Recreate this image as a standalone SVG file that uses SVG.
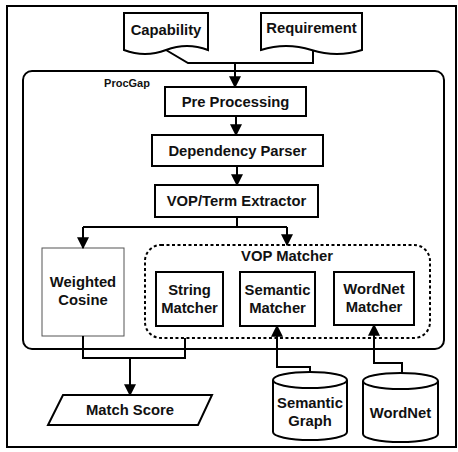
<svg xmlns="http://www.w3.org/2000/svg" width="458" height="452" viewBox="0 0 458 452">
<defs>
<style>
.box{fill:#fff;stroke:#000;stroke-width:2}
.thin{fill:#fff;stroke:#555;stroke-width:1}
.dash{fill:none;stroke:#000;stroke-width:2;stroke-dasharray:3 2.5}
.ln{fill:none;stroke:#000;stroke-width:2}
.t{font-family:"Liberation Sans",Arial,sans-serif;font-weight:bold;font-size:14.8px;text-anchor:middle;fill:#111}
.s{font-family:"Liberation Sans",Arial,sans-serif;font-weight:bold;font-size:11px;text-anchor:middle;fill:#111}
</style>
<marker id="ah" viewBox="0 0 10 10" refX="9" refY="5" markerWidth="12" markerHeight="12" markerUnits="userSpaceOnUse" orient="auto">
<path d="M0,0 L10,5 L0,10 z" fill="#000"/>
</marker>
</defs>
<rect x="7" y="6" width="449" height="441" fill="#fff" stroke="#000" stroke-width="2"/>
<g id="procgap">
<rect x="23" y="71" width="421" height="278" rx="9" class="box"/>
<text x="127" y="87" class="s">ProcGap</text>
</g>
<g id="capability">
<path d="M124,13 H208 V50 Q187,42 166,50 Q145,58 124,50 Z" class="box"/>
<text x="166" y="35" class="t">Capability</text>
</g>
<g id="requirement">
<path d="M261,13 H362 V50 Q337,58 311.5,50 Q286,42 261,50 Z" class="box"/>
<text x="311.5" y="33" class="t">Requirement</text>
</g>
<g id="preprocessing">
<rect x="165" y="87" width="141" height="29" class="box"/>
<text x="235.5" y="107" class="t">Pre Processing</text>
</g>
<g id="dependencyparser">
<rect x="152" y="135" width="171" height="31" class="box"/>
<text x="237.5" y="155.5" class="t">Dependency Parser</text>
</g>
<g id="vopterm">
<rect x="155" y="185" width="163" height="32" class="box"/>
<text x="236.5" y="206" class="t">VOP/Term Extractor</text>
</g>
<g id="weightedcosine">
<rect x="42" y="248" width="82" height="88" class="thin"/>
<text x="83" y="287" class="t">Weighted</text>
<text x="83" y="305" class="t">Cosine</text>
</g>
<g id="vopmatcher">
<rect x="145" y="245" width="285" height="93" rx="16" class="dash"/>
<text x="287" y="261" class="t">VOP Matcher</text>
</g>
<g id="stringmatcher">
<rect x="156" y="272" width="67" height="54" class="box"/>
<text x="189.5" y="295" class="t">String</text>
<text x="189.5" y="313" class="t">Matcher</text>
</g>
<g id="semanticmatcher">
<rect x="240" y="272" width="75" height="54" class="box"/>
<text x="277.5" y="295" class="t">Semantic</text>
<text x="277.5" y="313" class="t">Matcher</text>
</g>
<g id="wordnetmatcher">
<rect x="334" y="272" width="80" height="53" class="box"/>
<text x="374" y="294" class="t">WordNet</text>
<text x="374" y="312" class="t">Matcher</text>
</g>
<g id="matchscore">
<path d="M63,395 H212 L198,425 H48 Z" class="box"/>
<text x="130" y="415" class="t">Match Score</text>
</g>
<g id="semanticgraph">
<path d="M273,380 A37,8 0 0,1 347,380 V432 A37,8 0 0,1 273,432 Z" class="box"/>
<path d="M273,380 A37,8 0 0,0 347,380" class="ln"/>
<text x="310" y="408" class="t">Semantic</text>
<text x="310" y="426" class="t">Graph</text>
</g>
<g id="wordnet">
<path d="M363,381 A37.5,8 0 0,1 438,381 V434 A37.5,8 0 0,1 363,434 Z" class="box"/>
<path d="M363,381 A37.5,8 0 0,0 438,381" class="ln"/>
<text x="400.5" y="418" class="t">WordNet</text>
</g>
<g id="connectors">
<path d="M166,50 L188,63 H313 V50" class="ln"/>
<path d="M235,63 V87" class="ln" marker-end="url(#ah)"/>
<path d="M236,116 V135" class="ln" marker-end="url(#ah)"/>
<path d="M237,166 V185" class="ln" marker-end="url(#ah)"/>
<path d="M237,217 V227 M83,227 H287" class="ln"/>
<path d="M83,227 V248" class="ln" marker-end="url(#ah)"/>
<path d="M287,227 V245" class="ln" marker-end="url(#ah)"/>
<path d="M83,336 V358 H185 V338" class="ln"/>
<path d="M130,358 V395" class="ln" marker-end="url(#ah)"/>
<path d="M310,372 V367 H277 V326" class="ln" marker-end="url(#ah)"/>
<path d="M402,373 V363 H374 V325" class="ln" marker-end="url(#ah)"/>
</g>
</svg>
